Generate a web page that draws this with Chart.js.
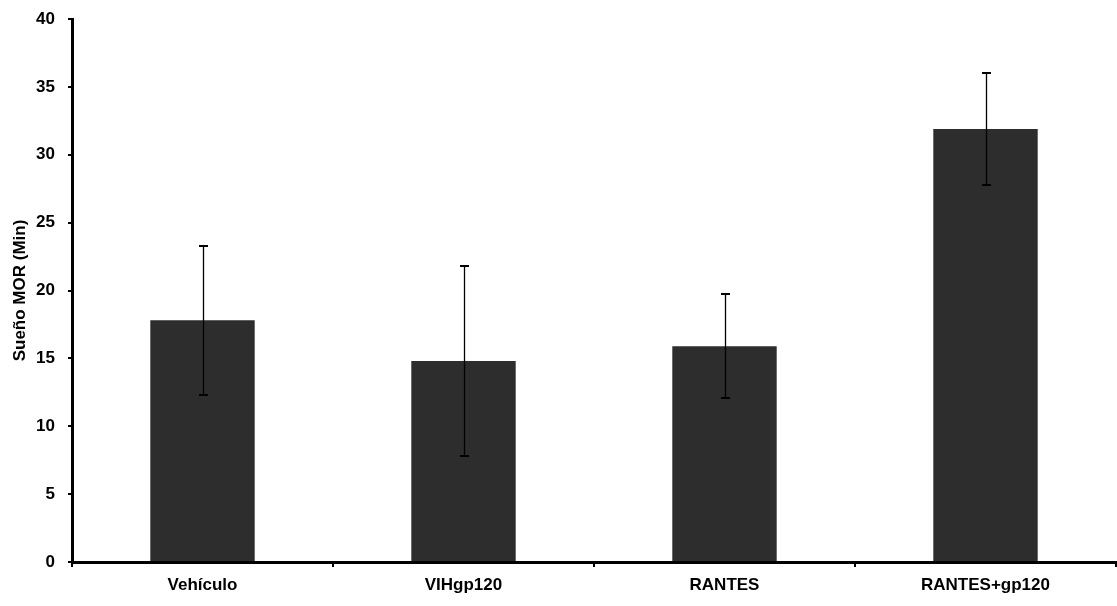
<!DOCTYPE html>
<html>
<head>
<meta charset="utf-8">
<script src="https://cdn.jsdelivr.net/npm/chart.js@4/dist/chart.umd.min.js"></script>
<style>
  html, body { margin: 0; padding: 0; background: #ffffff; }
  #wrap { width: 1117px; height: 606px; }
</style>
</head>
<body>
<div id="wrap"><canvas id="c"></canvas></div>
<script>
// Sueño MOR (minutos) por grupo de tratamiento, media ± error
const categories = ['Vehículo', 'VIHgp120', 'RANTES', 'RANTES+gp120'];
const meanValues = [17.8, 14.8, 15.9, 31.9];
const errorValues = [5.5, 7.0, 3.85, 4.15];
const yTicks = [0, 5, 10, 15, 20, 25, 30, 35, 40];

const FONT = 'Liberation Sans, Arial, Helvetica, sans-serif';

// Vertical error bars with caps, drawn from the bar scales
const errorBars = {
  id: 'errorBars',
  afterDatasetsDraw(chart) {
    const { ctx, scales: { x, y } } = chart;
    ctx.save();
    ctx.strokeStyle = '#000000';
    meanValues.forEach((v, i) => {
      const px = Math.round(x.getPixelForValue(i)) + 0.5;
      const top = Math.round(y.getPixelForValue(v + errorValues[i]));
      const bot = Math.round(y.getPixelForValue(v - errorValues[i]));
      ctx.lineWidth = 1.3;
      ctx.beginPath();
      ctx.moveTo(px, top);
      ctx.lineTo(px, bot);
      ctx.stroke();
      ctx.lineWidth = 2;
      ctx.beginPath();
      ctx.moveTo(px - 4.5, top);
      ctx.lineTo(px + 4.5, top);
      ctx.moveTo(px - 4.5, bot);
      ctx.lineTo(px + 4.5, bot);
      ctx.stroke();
    });
    ctx.restore();
  }
};

new Chart(document.getElementById('c'), {
  type: 'bar',
  data: {
    labels: categories,
    datasets: [{
      data: meanValues,
      backgroundColor: '#2d2d2d',
      borderWidth: 0,
      barPercentage: 0.4,
      categoryPercentage: 1.0
    }]
  },
  options: {
    responsive: true,
    maintainAspectRatio: false,
    animation: false,
    devicePixelRatio: 1,
    layout: { padding: { top: 19, right: 1, left: 0, bottom: 0 } },
    plugins: {
      legend: { display: false },
      tooltip: { enabled: false }
    },
    scales: {
      x: {
        offset: true,
        grid: { offset: true, drawOnChartArea: false, tickLength: 5, color: '#000000', lineWidth: 2 },
        border: { color: '#000000', width: 3 },
        ticks: { color: '#000000', padding: 8, font: { family: FONT, weight: 'bold', size: 17 } },
        afterFit: s => { s.height = 44; s.paddingLeft = 0; s.paddingRight = 0; }
      },
      y: {
        min: 0,
        max: 40,
        afterBuildTicks: s => { s.ticks = yTicks.map(v => ({ value: v })); },
        grid: { drawOnChartArea: false, tickLength: 4, color: '#000000', lineWidth: 2 },
        border: { color: '#000000', width: 3 },
        ticks: { color: '#000000', padding: 13, font: { family: FONT, weight: 'bold', size: 17 } },
        title: {
          display: true,
          text: 'Sueño MOR (Min)',
          color: '#000000',
          padding: { top: 10, bottom: 0 },
          font: { family: FONT, weight: 'bold', size: 17 }
        },
        afterFit: s => { s.width = 72; s.paddingTop = 0; s.paddingBottom = 0; }
      }
    }
  },
  plugins: [errorBars]
});
</script>
</body>
</html>
